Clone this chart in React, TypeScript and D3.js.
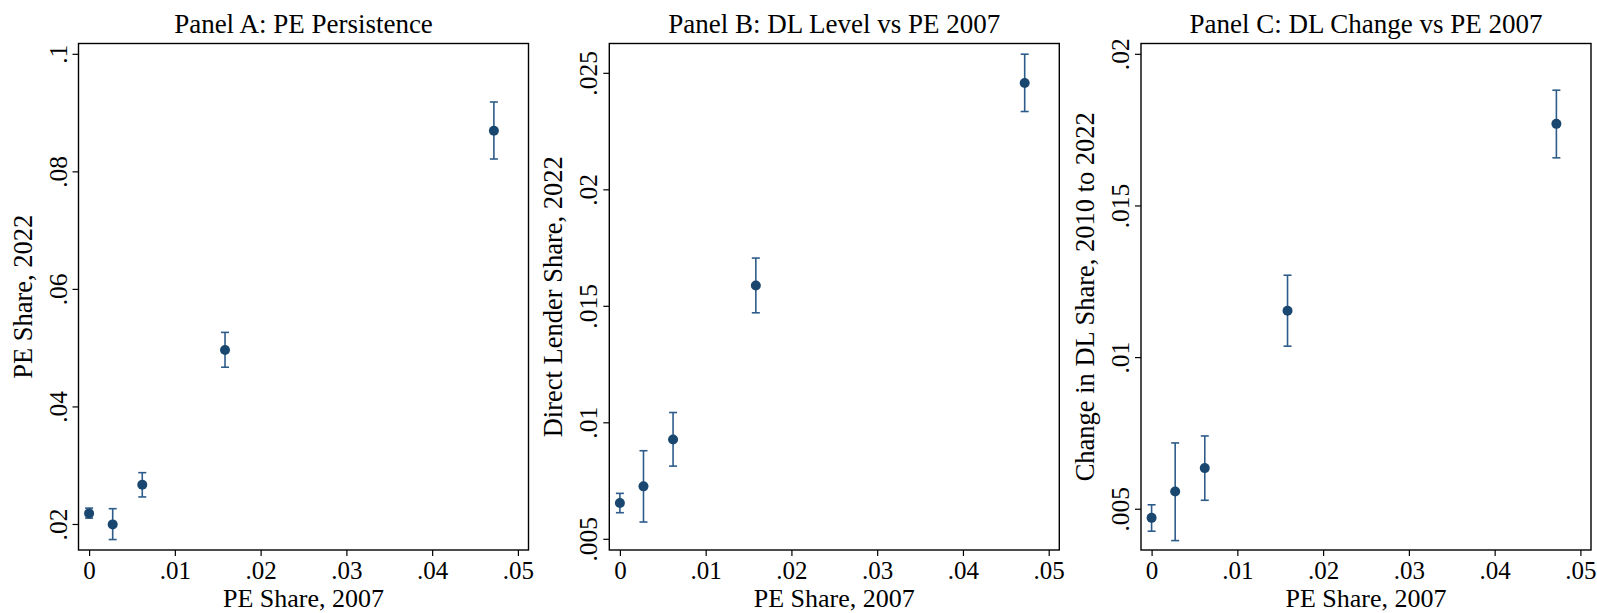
import React, { useEffect, useRef } from "react";
import { axisBottom, axisLeft, scaleLinear, select } from "d3";

// x: PE share in 2007 (bin means), shared by all three panels
const peShare2007 = [0, 0.00275, 0.0062, 0.01585, 0.0472];
const xTicks = [0, 0.01, 0.02, 0.03, 0.04, 0.05];
const xTickLabels = ["0", ".01", ".02", ".03", ".04", ".05"];

// Panel A
const peShare2022 = [0.0218, 0.01993, 0.02667, 0.0496, 0.0869];
const peShare2022Lo = [0.021, 0.01735, 0.0246, 0.04667, 0.0821];
const peShare2022Hi = [0.0227, 0.0226, 0.02873, 0.0526, 0.0918];
const aTicks = [0.02, 0.04, 0.06, 0.08, 0.1];
const aTickLabels = [".02", ".04", ".06", ".08", ".1"];

// Panel B
const dlLevel = [0.00654, 0.00725, 0.00926, 0.01587, 0.02456];
const dlLevelLo = [0.00612, 0.00572, 0.00812, 0.0147, 0.02334];
const dlLevelHi = [0.00695, 0.00878, 0.01042, 0.01705, 0.0258];
const bTicks = [0.005, 0.01, 0.015, 0.02, 0.025];
const bTickLabels = [".005", ".01", ".015", ".02", ".025"];

// Panel C
const dlChange = [0.0047, 0.00557, 0.00634, 0.01153, 0.01769];
const dlChangeLo = [0.00426, 0.00395, 0.00528, 0.01036, 0.01657];
const dlChangeHi = [0.00513, 0.00717, 0.0074, 0.0127, 0.0188];
const cTicks = [0.005, 0.01, 0.015, 0.02];
const cTickLabels = [".005", ".01", ".015", ".02"];

const panels = [
  {
    title: "Panel A: PE Persistence",
    yLabel: "PE Share, 2022",
    left: 78.5,
    yDomain: [0.015571, 0.101754],
    y: peShare2022, lo: peShare2022Lo, hi: peShare2022Hi,
    ticks: aTicks, tickLabels: aTickLabels
  },
  {
    title: "Panel B: DL Level vs PE 2007",
    yLabel: "Direct Lender Share, 2022",
    left: 609.3,
    yDomain: [0.004519, 0.026259],
    y: dlLevel, lo: dlLevelLo, hi: dlLevelHi,
    ticks: bTicks, tickLabels: bTickLabels
  },
  {
    title: "Panel C: DL Change vs PE 2007",
    yLabel: "Change in DL Share, 2010 to 2022",
    left: 1141,
    yDomain: [0.00364, 0.02034],
    y: dlChange, lo: dlChangeLo, hi: dlChangeHi,
    ticks: cTicks, tickLabels: cTickLabels
  }
];

const W = 450;
const TOP = 43.5;
const H = 506.5;
const FONT = "'Liberation Serif', 'Times New Roman', serif";
const NAVY = "#1a476f";
const BAR = "#2e5c8a";

const App = () => {
  const svgRef = useRef(null);

  useEffect(() => {
    const svg = select(svgRef.current);
    svg.selectAll("*").remove();

    panels.forEach(p => {
      const g = svg.append("g").attr("transform", `translate(${p.left},${TOP})`);

      const xScale = scaleLinear().domain([-0.001236, 0.051236]).range([0, W]);
      const yScale = scaleLinear().domain(p.yDomain).range([H, 0]);

      const xAxis = axisBottom(xScale)
        .tickValues(xTicks)
        .tickFormat((d, i) => xTickLabels[i])
        .tickSize(6)
        .tickSizeOuter(0);
      const gx = g.append("g").attr("transform", `translate(0,${H})`).call(xAxis);
      gx.attr("font-family", FONT).attr("font-size", 25);
      gx.select(".domain").remove();
      gx.selectAll("line").attr("stroke", "#000").attr("stroke-width", 1.2);
      gx.selectAll("text")
        .attr("y", 28.5)
        .attr("dy", 0)
        .attr("fill", "#000");

      const yAxis = axisLeft(yScale)
        .tickValues(p.ticks)
        .tickFormat((d, i) => p.tickLabels[i])
        .tickSize(6)
        .tickSizeOuter(0);
      const gy = g.append("g").call(yAxis);
      gy.attr("font-family", FONT).attr("font-size", 25.5);
      gy.select(".domain").remove();
      gy.selectAll("line").attr("stroke", "#000").attr("stroke-width", 1.2);
      gy.selectAll("text")
        .attr("transform", "rotate(-90)")
        .attr("x", 0)
        .attr("y", -12)
        .attr("dy", 0)
        .attr("text-anchor", "middle")
        .attr("fill", "#000");

      // plot region outline
      g.append("rect")
        .attr("x", 0)
        .attr("y", 0)
        .attr("width", W)
        .attr("height", H)
        .attr("fill", "none")
        .attr("stroke", "#000")
        .attr("stroke-width", 1.4);

      // titles
      g.append("text")
        .attr("x", W / 2)
        .attr("y", 33 - TOP)
        .attr("text-anchor", "middle")
        .style("font-family", FONT)
        .style("font-size", "27px")
        .text(p.title);
      g.append("text")
        .attr("x", W / 2)
        .attr("y", H + 57)
        .attr("text-anchor", "middle")
        .style("font-family", FONT)
        .style("font-size", "26px")
        .text("PE Share, 2007");
      g.append("text")
        .attr("transform", `translate(-47,${H / 2}) rotate(-90)`)
        .attr("text-anchor", "middle")
        .style("font-family", FONT)
        .style("font-size", "26.5px")
        .text(p.yLabel);

      const idx = peShare2007.map((v, i) => i);

      // confidence intervals (rcap)
      const bars = g.selectAll(".ci").data(idx).join("g").attr("class", "ci")
        .attr("stroke", BAR).attr("stroke-width", 1.6);
      bars.append("line")
        .attr("x1", i => xScale(peShare2007[i]))
        .attr("x2", i => xScale(peShare2007[i]))
        .attr("y1", i => yScale(p.lo[i]))
        .attr("y2", i => yScale(p.hi[i]));
      bars.append("line")
        .attr("x1", i => xScale(peShare2007[i]) - 4)
        .attr("x2", i => xScale(peShare2007[i]) + 4)
        .attr("y1", i => yScale(p.lo[i]))
        .attr("y2", i => yScale(p.lo[i]));
      bars.append("line")
        .attr("x1", i => xScale(peShare2007[i]) - 4)
        .attr("x2", i => xScale(peShare2007[i]) + 4)
        .attr("y1", i => yScale(p.hi[i]))
        .attr("y2", i => yScale(p.hi[i]));

      g.selectAll(".pt").data(idx).join("circle").attr("class", "pt")
        .attr("cx", i => xScale(peShare2007[i]))
        .attr("cy", i => yScale(p.y[i]))
        .attr("r", 5)
        .attr("fill", NAVY);
    });
  }, []);

  return (
    <svg
      ref={svgRef}
      width={1597}
      height={613}
      style={{ position: "absolute", left: 0, top: 0, background: "#fff" }}
    />
  );
};

export default App;
